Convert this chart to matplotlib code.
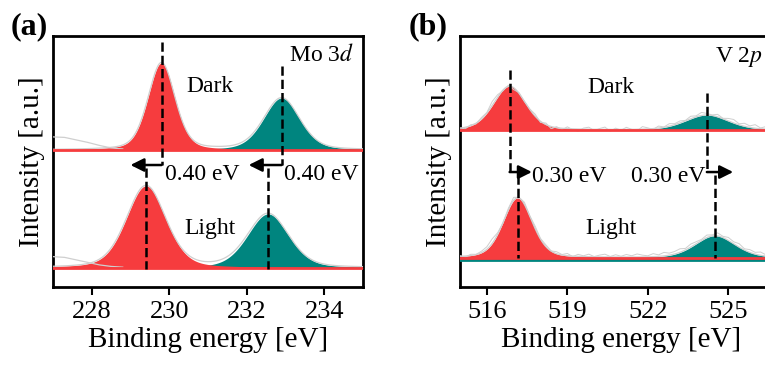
import numpy as np
import matplotlib.pyplot as plt

plt.rcParams['font.family'] = ['Liberation Serif', 'DejaVu Serif']
plt.rcParams['mathtext.fontset'] = 'stix'

RED = '#f63c3e'
TEAL = '#00857f'
GRAY = '#cfcfcf'

# ---- panel (a) Mo 3d : fitted peaks (center, height, fwhm) ----
mo_dark_base = 0.546
mo_light_base = 0.076
mo_dark_red = (229.80, 0.347, 0.82)
mo_dark_teal = (232.90, 0.207, 1.10)
mo_light_red = (229.40, 0.327, 1.20)
mo_light_teal = (232.55, 0.215, 1.25)
# raw-data background on the low-energy side (x, height above baseline)
mo_bg_x = [227.0, 227.3, 227.6, 227.9, 228.2, 228.5, 228.8]
mo_dark_bg = [0.052, 0.050, 0.040, 0.030, 0.018, 0.008, 0.004]
mo_light_bg = [0.045, 0.042, 0.032, 0.022, 0.012, 0.006, 0.003]
mo_ticks = [228, 230, 232, 234]

# ---- panel (b) V 2p ----
v_dark_base = 0.625
v_light_base = 0.116
v_dark_red = (516.85, 0.175, 1.43)
v_dark_teal = (524.20, 0.060, 1.90)
v_light_red = (517.15, 0.239, 1.27)
v_light_teal = (524.50, 0.088, 1.75)
v_ticks = [516, 519, 522, 525]
# raw-data wiggle (step 0.2 eV from 515.0)
v_dark_noise = [0.000, -0.006, 0.004, -0.003, 0.006, 0.002, 0.016, 0.010, -0.003, 0.004,
                -0.008, 0.003, 0.000, 0.002, 0.008, -0.005, 0.006, -0.009, 0.004, -0.006,
                0.007, -0.003, -0.009, 0.004, 0.008, -0.005, 0.003, 0.009, -0.007, 0.005,
                -0.003, 0.008, 0.000, -0.006, 0.010, 0.004, -0.003, 0.008, 0.001, 0.010,
                0.004, 0.008, 0.002, 0.010, 0.004, 0.012, 0.006, 0.002, 0.010, 0.002,
                0.010, 0.014, 0.004, 0.012, 0.006, 0.014, 0.003, 0.010, 0.005, 0.012, 0.006]
v_light_noise = [0.003, -0.004, 0.005, 0.001, 0.006, 0.010, 0.018, 0.006, -0.003, 0.006,
                 0.012, 0.003, 0.009, 0.002, 0.010, 0.003, 0.007, 0.001, 0.008, 0.002,
                 0.009, -0.002, 0.008, 0.003, 0.010, 0.001, 0.007, 0.011, 0.002, 0.009,
                 0.003, 0.010, 0.005, 0.012, 0.007, 0.004, 0.012, 0.006, 0.014, 0.008,
                 0.010, 0.014, 0.006, 0.012, 0.008, 0.004, 0.010, 0.004, 0.012, 0.005,
                 0.012, 0.008, 0.014, 0.005, 0.011, 0.007, 0.013, 0.005, 0.010, 0.004, 0.007]


def pv(x, c, h, w, eta=0.3):
    g = np.exp(-4 * np.log(2) * (x - c) ** 2 / w ** 2)
    l = 1 / (1 + 4 * (x - c) ** 2 / w ** 2)
    return h * ((1 - eta) * g + eta * l)


def draw_pair(ax, x, base, red, teal, teal_off=0.0):
    yr = pv(x, *red)
    yt = pv(x, *teal)
    ax.fill_between(x, base + teal_off, base + yt, color=TEAL, lw=0, zorder=2)
    ax.fill_between(x, base, base + yr, color=RED, lw=0, zorder=3)
    ax.plot(x, base + yr + yt, color=GRAY, lw=0.9, zorder=4)
    if teal_off:
        ax.plot(x, np.full_like(x, base + teal_off), color=TEAL, lw=2, zorder=5)
    ax.plot(x, np.full_like(x, base), color=RED, lw=2, zorder=5)


def shift(ax, xd, ytop, ymid, xl, ylow, xtip):
    ax.plot([xd, xd], [ytop, ymid], 'k--', lw=1.8, zorder=6)
    ax.annotate('', xy=(xtip, ymid), xytext=(xd, ymid),
                arrowprops=dict(arrowstyle='-|>', color='k', lw=1.8,
                                mutation_scale=20, shrinkA=0, shrinkB=0), zorder=6)
    ax.plot([xl, xl], [ymid - 0.012, ylow], 'k--', lw=1.8, zorder=6)


fig = plt.figure(figsize=(7.65, 3.65), dpi=100)
ax1 = fig.add_axes([53 / 765, 78 / 365, 310 / 765, 251 / 365])
ax2 = fig.add_axes([460 / 765, 78 / 365, 322 / 765, 251 / 365])

# panel (a)
xa = np.linspace(227, 235, 800)
draw_pair(ax1, xa, mo_dark_base, mo_dark_red, mo_dark_teal)
draw_pair(ax1, xa, mo_light_base, mo_light_red, mo_light_teal)
ax1.plot(mo_bg_x, np.array(mo_dark_bg) + mo_dark_base, color=GRAY, lw=0.9, zorder=4)
ax1.plot(mo_bg_x, np.array(mo_light_bg) + mo_light_base, color=GRAY, lw=0.9, zorder=4)
shift(ax1, 229.80, 0.976, 0.486, 229.40, 0.072, 229.00)
shift(ax1, 232.90, 0.880, 0.486, 232.55, 0.072, 232.05)
ax1.text(229.90, 0.450, '0.40 eV', fontsize=17, va='center', ha='left')
ax1.text(232.95, 0.450, '0.40 eV', fontsize=17, va='center', ha='left')
ax1.text(231.06, 0.797, 'Dark', fontsize=17, va='center', ha='center')
ax1.text(231.06, 0.235, 'Light', fontsize=17, va='center', ha='center')
ax1.text(233.10, 0.924, 'Mo 3$\\mathit{d}$', fontsize=17, va='center', ha='left')
ax1.set_xlim(227, 235)
ax1.set_xticks(mo_ticks)

# panel (b)
xb = np.linspace(515, 527, 800)
draw_pair(ax2, xb, v_dark_base, v_dark_red, v_dark_teal)
draw_pair(ax2, xb, v_light_base, v_light_red, v_light_teal, teal_off=-0.008)
xn = np.arange(515, 527.1, 0.2)
ax2.plot(xn, v_dark_base + pv(xn, *v_dark_red) + pv(xn, *v_dark_teal) + np.array(v_dark_noise),
         color=GRAY, lw=0.7, zorder=4)
ax2.plot(xn, v_light_base + pv(xn, *v_light_red) + pv(xn, *v_light_teal) + np.array(v_light_noise),
         color=GRAY, lw=0.7, zorder=4)
shift(ax2, 516.85, 0.865, 0.458, 517.15, 0.116, 517.68)
shift(ax2, 524.20, 0.773, 0.458, 524.50, 0.116, 525.18)
ax2.text(517.70, 0.442, '0.30 eV', fontsize=17, va='center', ha='left')
ax2.text(524.15, 0.442, '0.30 eV', fontsize=17, va='center', ha='right')
ax2.text(520.64, 0.793, 'Dark', fontsize=17, va='center', ha='center')
ax2.text(520.64, 0.235, 'Light', fontsize=17, va='center', ha='center')
ax2.text(524.52, 0.916, 'V 2$\\mathit{p}$', fontsize=17, va='center', ha='left')
ax2.set_xlim(515, 527)
ax2.set_xticks(v_ticks)

for ax in (ax1, ax2):
    ax.set_ylim(0, 1)
    ax.set_yticks([])
    for s in ax.spines.values():
        s.set_linewidth(2)
    ax.tick_params(axis='x', direction='out', length=6, width=1.5, labelsize=19, pad=4)
    ax.set_xlabel('Binding energy [eV]', fontsize=21, labelpad=3)
    ax.set_ylabel('Intensity [a.u.]', fontsize=21, labelpad=6)

fig.text(11 / 765, 1 - 27 / 365, '(a)', fontsize=23, fontweight='bold', va='center', ha='left')
fig.text(409 / 765, 1 - 27 / 365, '(b)', fontsize=23, fontweight='bold', va='center', ha='left')

fig.savefig('out.png', dpi=100)
